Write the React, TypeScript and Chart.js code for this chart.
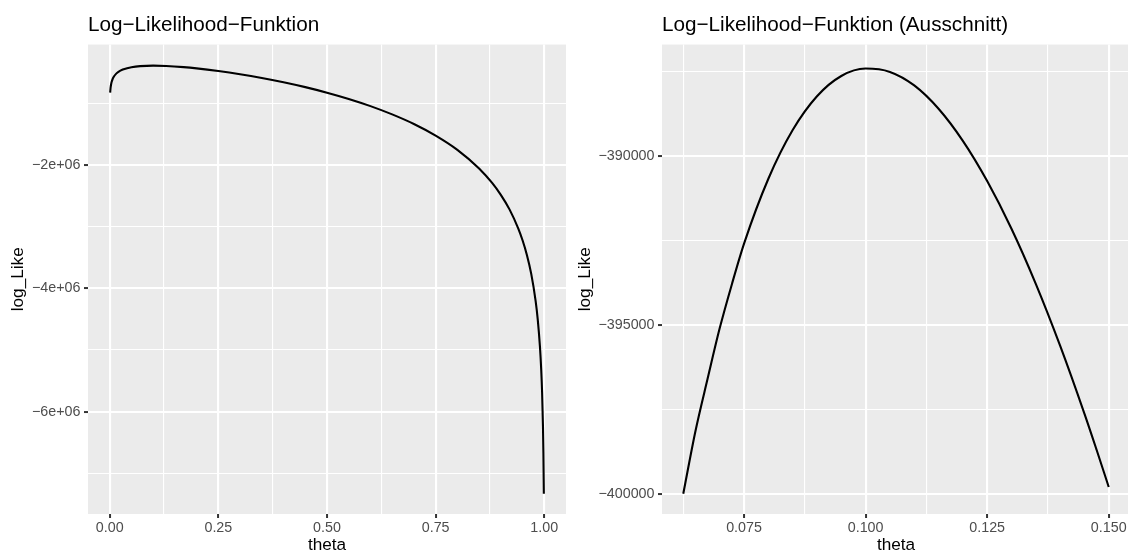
import React, { useEffect, useRef } from "react";
import { Chart, registerables } from "chart.js";

Chart.register(...registerables);

const FONT = '"Liberation Sans", Arial, Helvetica, sans-serif';
const MINUS = "\u2212";

// ---------- Left panel: full log-likelihood ----------
const leftTitle = `Log${MINUS}Likelihood${MINUS}Funktion`;
const leftTheta = [
  0.001, 0.002, 0.004, 0.007, 0.01, 0.015, 0.02, 0.03, 0.04, 0.05, 0.07, 0.1,
  0.13, 0.17, 0.2, 0.25, 0.3, 0.35, 0.4, 0.45, 0.5, 0.55, 0.6, 0.65, 0.7, 0.75,
  0.8, 0.85, 0.88, 0.9, 0.92, 0.94, 0.95, 0.96, 0.97, 0.98, 0.985, 0.99, 0.993,
  0.995, 0.997, 0.998, 0.999,
];
const leftLogLike = [
  -826000, -743000, -662000, -599000, -560000, -517000, -488000, -451000,
  -428000, -412000, -395000, -387500, -392500, -411000, -431000, -474000,
  -526000, -587000, -657000, -736000, -826000, -928000, -1044000, -1178000,
  -1334000, -1522000, -1753000, -2055000, -2290000, -2483000, -2719000,
  -3026000, -3220000, -3458000, -3765000, -4199000, -4507000, -4942000,
  -5324000, -5685000, -6232000, -6667000, -7330000,
];
const leftXMajor = [0, 0.25, 0.5, 0.75, 1];
const leftXMinor = [0.125, 0.375, 0.625, 0.875];
const leftXTickLabels = ["0.00", "0.25", "0.50", "0.75", "1.00"];
const leftYMajor = [-2e6, -4e6, -6e6];
const leftYMinor = [-1e6, -3e6, -5e6, -7e6];
const leftYTickLabels = [`${MINUS}2e+06`, `${MINUS}4e+06`, `${MINUS}6e+06`];
const leftXRange = [-0.05, 1.05];
const leftYRange = [-7660000, -45000];

// ---------- Right panel: zoomed section ----------
const rightTitle = `Log${MINUS}Likelihood${MINUS}Funktion (Ausschnitt)`;
const rightTheta = [
  0.0625, 0.065, 0.0675, 0.07, 0.0725, 0.075, 0.08, 0.085, 0.09, 0.095, 0.1,
  0.105, 0.11, 0.115, 0.12, 0.125, 0.13, 0.135, 0.14, 0.145, 0.1475, 0.15,
];
const rightLogLike = [
  -400000, -398150, -396600, -395100, -393800, -392600, -390680, -389240,
  -388240, -387640, -387420, -387520, -387920, -388610, -389560, -390750,
  -392160, -393790, -395620, -397630, -398700, -399800,
];
const rightXMajor = [0.075, 0.1, 0.125, 0.15];
const rightXMinor = [0.0625, 0.0875, 0.1125, 0.1375];
const rightXTickLabels = ["0.075", "0.100", "0.125", "0.150"];
const rightYMajor = [-390000, -395000, -400000];
const rightYMinor = [-387500, -392500, -397500];
const rightYTickLabels = [`${MINUS}390000`, `${MINUS}395000`, `${MINUS}400000`];
const rightXRange = [0.058125, 0.154375];
const rightYRange = [-400600, -386710];

const xAxisTitle = "theta";
const yAxisTitle = "log_Like";

const panelBg = {
  id: "panelBg",
  beforeDraw(chart: any) {
    const { ctx, chartArea: a } = chart;
    ctx.save();
    ctx.fillStyle = "#EBEBEB";
    ctx.fillRect(a.left, a.top, a.right - a.left, a.bottom - a.top);
    ctx.restore();
  },
};

function axis(o: {
  axis: "x" | "y";
  range: number[];
  major: number[];
  minor: number[];
  labels: string[];
  title: string;
  size: number;
  titlePadTop: number;
}) {
  const all = [...o.major, ...o.minor].sort((a, b) => a - b);
  const eps = (v: number) => 1e-9 * Math.max(1, Math.abs(v));
  const majorIndex = (v: number) => o.major.findIndex((m) => Math.abs(m - v) < eps(m));
  const isMajor = (c: any) => (c && c.tick ? majorIndex(c.tick.value) >= 0 : true);
  return {
    type: "linear",
    min: o.range[0],
    max: o.range[1],
    afterBuildTicks: (scale: any) => {
      scale.ticks = all.map((v) => ({ value: v }));
    },
    afterFit: (scale: any) => {
      if (o.axis === "y") scale.width = o.size;
      else scale.height = o.size;
    },
    ticks: {
      autoSkip: false,
      maxRotation: 0,
      minRotation: 0,
      padding: o.axis === "y" ? 3.5 : 1,
      color: "#4D4D4D",
      font: { family: FONT, size: 14.3, lineHeight: 1.2 },
      callback: (value: number) => {
        const i = majorIndex(value);
        return i >= 0 ? o.labels[i] : "";
      },
    },
    grid: {
      drawOnChartArea: true,
      drawTicks: true,
      tickLength: 4,
      color: "#FFFFFF",
      lineWidth: (c: any) => (isMajor(c) ? 2.1 : 1.1),
      tickColor: (c: any) => (isMajor(c) ? "#333333" : "rgba(0,0,0,0)"),
      tickWidth: (c: any) => (isMajor(c) ? 2 : 0),
    },
    border: { display: false },
    title: {
      display: true,
      text: o.title,
      color: "#000000",
      font: { family: FONT, size: 17.2, lineHeight: o.axis === "y" ? 1.2 : 1 },
      padding: { top: o.axis === "y" ? o.titlePadTop : 0, bottom: 0 },
    },
  };
}

function Panel(props: {
  left: number;
  width: number;
  title: string;
  theta: number[];
  values: number[];
  xRange: number[];
  yRange: number[];
  xMajor: number[];
  xMinor: number[];
  xLabels: string[];
  yMajor: number[];
  yMinor: number[];
  yLabels: string[];
  yAxisWidth: number;
  yTitlePad: number;
}) {
  const ref = useRef<HTMLCanvasElement | null>(null);
  useEffect(() => {
    if (!ref.current) return;
    const chart = new Chart(ref.current, {
      type: "line",
      data: {
        datasets: [
          {
            data: props.theta.map((t, i) => ({ x: t, y: props.values[i] })),
            borderColor: "#000000",
            borderWidth: 2.1,
            pointRadius: 0,
            pointHoverRadius: 0,
            fill: false,
            cubicInterpolationMode: "monotone",
          },
        ],
      },
      options: {
        responsive: false,
        animation: false,
        devicePixelRatio: 1,
        events: [],
        layout: { padding: { left: 0, right: 0, top: 0, bottom: 0 } },
        plugins: {
          legend: { display: false },
          tooltip: { enabled: false },
          title: {
            display: true,
            text: props.title,
            align: "start",
            fullSize: false,
            color: "#000000",
            font: { family: FONT, size: 20.7, weight: "normal", lineHeight: 1.2 },
            padding: { top: 12.9, bottom: 6.8 },
          },
        },
        scales: {
          x: axis({
            axis: "x",
            range: props.xRange,
            major: props.xMajor,
            minor: props.xMinor,
            labels: props.xLabels,
            title: xAxisTitle,
            size: 40,
            titlePadTop: 0,
          }),
          y: axis({
            axis: "y",
            range: props.yRange,
            major: props.yMajor,
            minor: props.yMinor,
            labels: props.yLabels,
            title: yAxisTitle,
            size: props.yAxisWidth,
            titlePadTop: props.yTitlePad,
          }),
        },
      } as any,
      plugins: [panelBg],
    });
    return () => chart.destroy();
  }, []);
  return (
    <canvas
      ref={ref}
      width={props.width}
      height={554}
      style={{ position: "absolute", left: props.left, top: 0, width: props.width, height: 554 }}
    />
  );
}

export default function App() {
  return (
    <div
      style={{
        position: "fixed",
        left: 0,
        top: 0,
        width: 1128,
        height: 554,
        overflow: "hidden",
        background: "#FFFFFF",
      }}
    >
      <Panel
        left={0}
        width={566}
        title={leftTitle}
        theta={leftTheta}
        values={leftLogLike}
        xRange={leftXRange}
        yRange={leftYRange}
        xMajor={leftXMajor}
        xMinor={leftXMinor}
        xLabels={leftXTickLabels}
        yMajor={leftYMajor}
        yMinor={leftYMinor}
        yLabels={leftYTickLabels}
        yAxisWidth={88}
        yTitlePad={8.3}
      />
      <Panel
        left={566}
        width={564}
        title={rightTitle}
        theta={rightTheta}
        values={rightLogLike}
        xRange={rightXRange}
        yRange={rightYRange}
        xMajor={rightXMajor}
        xMinor={rightXMinor}
        xLabels={rightXTickLabels}
        yMajor={rightYMajor}
        yMinor={rightYMinor}
        yLabels={rightYTickLabels}
        yAxisWidth={96}
        yTitlePad={8.8}
      />
    </div>
  );
}
